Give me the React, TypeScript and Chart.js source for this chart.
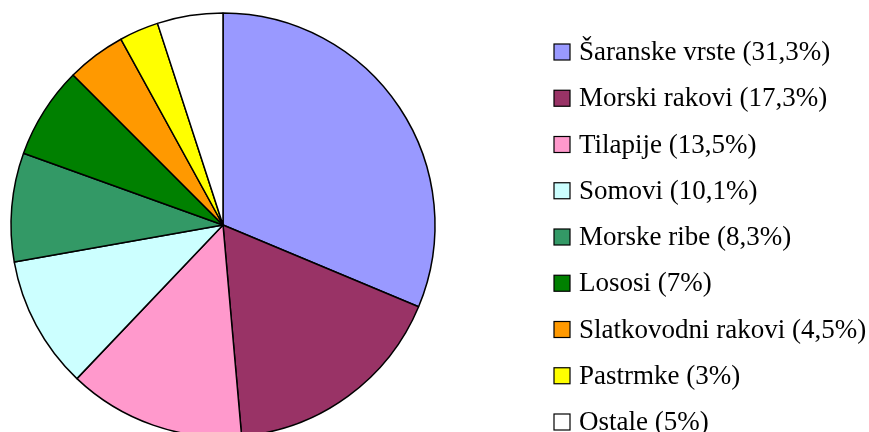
import React, { useEffect, useRef } from "react";
import { Chart, registerables } from "chart.js";

Chart.register(...registerables);

const categories = [
  "Šaranske vrste",
  "Morski rakovi",
  "Tilapije",
  "Somovi",
  "Morske ribe",
  "Lososi",
  "Slatkovodni rakovi",
  "Pastrmke",
  "Ostale",
];
const shares = [31.3, 17.3, 13.5, 10.1, 8.3, 7, 4.5, 3, 5];
const colors = [
  "#9999FF",
  "#993366",
  "#FF99CC",
  "#CCFFFF",
  "#339966",
  "#008000",
  "#FF9900",
  "#FFFF00",
  "#FFFFFF",
];

const legendPlugin = {
  id: "sideLegend",
  afterDraw(chart: any) {
    const ctx = chart.ctx;
    const labels = chart.data.labels as string[];
    const ds = chart.data.datasets[0];
    const x0 = 554;
    const y0 = 52;
    const step = 46.25;
    const box = 16;
    ctx.save();
    ctx.font = '27px "Liberation Serif", "Times New Roman", serif';
    ctx.textBaseline = "middle";
    ctx.textAlign = "left";
    labels.forEach((lab, i) => {
      const cy = y0 + i * step;
      ctx.fillStyle = ds.backgroundColor[i];
      ctx.fillRect(x0, cy - box / 2, box, box);
      ctx.lineWidth = 1.2;
      ctx.strokeStyle = "#000";
      ctx.strokeRect(x0, cy - box / 2, box, box);
      ctx.fillStyle = "#000";
      const v = String(ds.data[i]).replace(".", ",");
      ctx.fillText(`${lab} (${v}%)`, 579, cy + 1);
    });
    ctx.restore();
  },
};

export default function App() {
  const ref = useRef<HTMLCanvasElement | null>(null);
  useEffect(() => {
    document.body.style.margin = "0";
    const canvas = ref.current!;
    const chart = new Chart(canvas, {
      type: "pie",
      data: {
        labels: categories,
        datasets: [
          {
            data: shares,
            backgroundColor: colors,
            borderColor: "#000000",
            borderWidth: 1.5,
            radius: 212,
            clip: false,
          } as any,
        ],
      },
      options: {
        animation: false,
        responsive: false,
        maintainAspectRatio: false,
        layout: { padding: { left: 0, right: 423, top: 18, bottom: 0 } },
        plugins: {
          legend: { display: false },
          tooltip: { enabled: false },
        },
      },
      plugins: [legendPlugin],
    });
    return () => chart.destroy();
  }, []);
  return (
    <div style={{ width: 869, height: 432, background: "#fff" }}>
      <canvas ref={ref} width={869} height={432} style={{ display: "block" }} />
    </div>
  );
}
